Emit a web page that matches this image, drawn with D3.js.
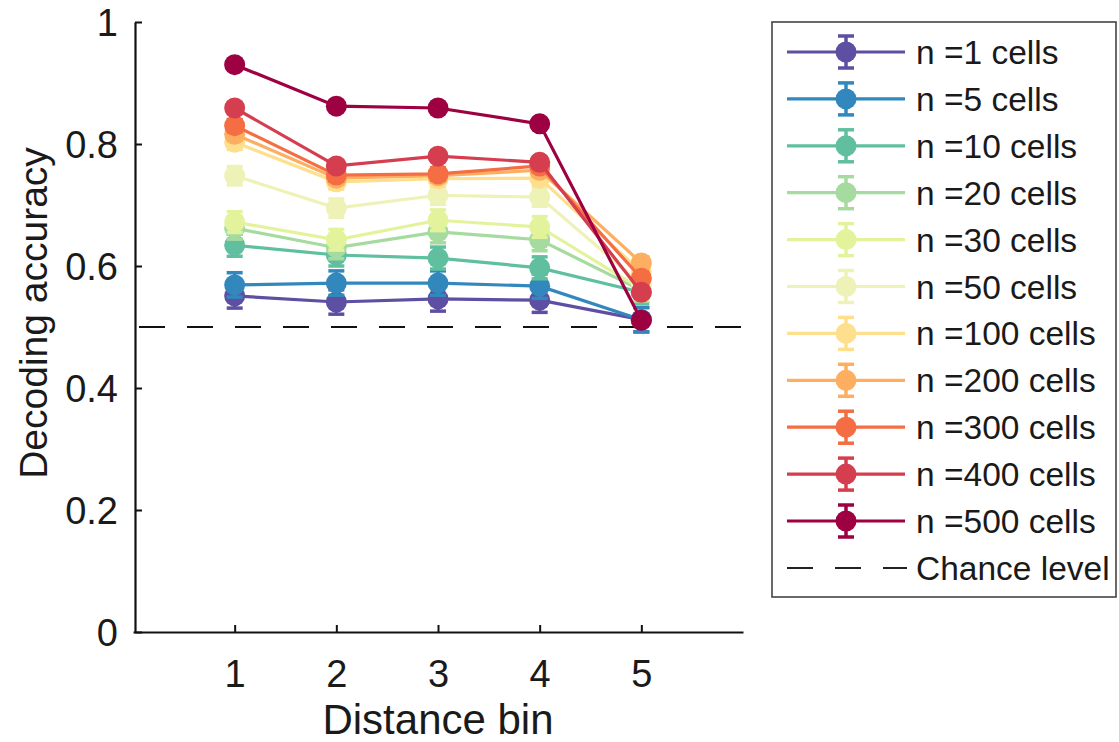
<!DOCTYPE html>
<html><head><meta charset="utf-8">
<script src="https://cdn.jsdelivr.net/npm/d3@7"></script>
<style>body{margin:0;background:#fff}svg{display:block}text{font-family:"Liberation Sans",Arial,sans-serif;fill:#1a1a1a}</style>
</head><body><svg id="c" width="1119" height="742"></svg>
<script>
const bins = [1, 2, 3, 4, 5];
const cellCounts = [1, 5, 10, 20, 30, 50, 100, 200, 300, 400, 500];
const acc_n1   = [0.551, 0.541, 0.546, 0.544, 0.512];
const acc_n5   = [0.569, 0.572, 0.572, 0.567, 0.512];
const acc_n10  = [0.634, 0.618, 0.613, 0.597, 0.557];
const acc_n20  = [0.662, 0.630, 0.656, 0.643, 0.560];
const acc_n30  = [0.672, 0.643, 0.675, 0.664, 0.562];
const acc_n50  = [0.748, 0.695, 0.716, 0.713, 0.570];
const acc_n100 = [0.803, 0.738, 0.743, 0.744, 0.590];
const acc_n200 = [0.816, 0.744, 0.748, 0.757, 0.605];
const acc_n300 = [0.830, 0.749, 0.751, 0.764, 0.580];
const acc_n400 = [0.859, 0.764, 0.780, 0.770, 0.557];
const acc_n500 = [0.930, 0.862, 0.859, 0.833, 0.511];
const err = [0.020, 0.020, 0.018, 0.018, 0.017, 0.015, 0.012, 0.010, 0.010, 0.008, 0.006];
const allAcc = [acc_n1, acc_n5, acc_n10, acc_n20, acc_n30, acc_n50, acc_n100, acc_n200, acc_n300, acc_n400, acc_n500];
const chance = 0.5;
const xTicks = [1, 2, 3, 4, 5];
const yTicks = [0, 0.2, 0.4, 0.6, 0.8, 1];
const colors = ["#5e4fa2", "#3288bd", "#5fbf9f", "#a6dba0", "#e3f39c", "#eef2b6", "#fedf8e", "#fdae61", "#f46d43", "#d53e4f", "#9e0142"];

const svg = d3.select("#c");
const L = 135, R = 743, T = 22, B = 632;
const x = d3.scaleLinear().domain([0, 6]).range([L - 2, R]);
const y = d3.scaleLinear().domain([0, 1]).range([B, T]);

// axes
const yAxis = svg.append("g").attr("transform", `translate(${L},0)`)
  .call(d3.axisLeft(y).tickValues(yTicks).tickFormat(d => d === 0 || d === 1 ? d3.format("d")(d) : d3.format(".1f")(d)).tickSizeInner(-7).tickSizeOuter(0).tickPadding(17));
const xAxis = svg.append("g").attr("transform", `translate(0,${B})`)
  .call(d3.axisBottom(x).tickValues(xTicks).tickFormat(d3.format("d")).tickSizeInner(-7).tickSizeOuter(0).tickPadding(28));
[yAxis, xAxis].forEach(g => {
  g.select(".domain").attr("stroke", "#111").attr("stroke-width", 2.2);
  g.selectAll(".tick line").attr("stroke", "#111").attr("stroke-width", 2);
  g.selectAll(".tick text").style("font-size", "38px").attr("fill", "#262626");
});
yAxis.selectAll(".tick text").attr("dy", "0.36em");
xAxis.selectAll(".tick text").attr("dy", "0.71em");

svg.append("text").attr("x", x(3.0)).attr("y", 734).attr("text-anchor", "middle").style("font-size", "42px").attr("fill", "#262626").text("Distance bin");
svg.append("text").attr("transform", `translate(47,${y(0.523)}) rotate(-90)`).attr("text-anchor", "middle").style("font-size", "39px").attr("fill", "#262626").text("Decoding accuracy");

// chance line
svg.append("line").attr("x1", L).attr("x2", R).attr("y1", y(chance)).attr("y2", y(chance))
  .attr("stroke", "#111").attr("stroke-width", 2).attr("stroke-dasharray", "26,22").attr("stroke-dashoffset", -4);

// series
const line = d3.line().x((d, i) => x(bins[i])).y(d => y(d));
allAcc.forEach((vals, k) => {
  const g = svg.append("g");
  const c = colors[k];
  g.append("path").datum(vals).attr("d", line).attr("fill", "none").attr("stroke", c).attr("stroke-width", 3.2);
  vals.forEach((v, i) => {
    const cx = x(bins[i]);
    const e = err[k];
    g.append("line").attr("x1", cx).attr("x2", cx).attr("y1", y(v - e)).attr("y2", y(v + e)).attr("stroke", c).attr("stroke-width", 3.5);
    [v - e, v + e].forEach(t => g.append("line").attr("x1", cx - 8).attr("x2", cx + 8).attr("y1", y(t)).attr("y2", y(t)).attr("stroke", c).attr("stroke-width", 3.5));
    g.append("circle").attr("cx", cx).attr("cy", y(v)).attr("r", 10.5).attr("fill", c);
  });
});

// legend
const lg = svg.append("g");
lg.append("rect").attr("x", 772).attr("y", 22).attr("width", 344).attr("height", 575).attr("fill", "#fff").attr("stroke", "#444").attr("stroke-width", 1.6);
const rowY = i => 52 + i * 46.9;
cellCounts.forEach((n, i) => {
  const c = colors[i], yy = rowY(i);
  lg.append("line").attr("x1", 787).attr("x2", 905).attr("y1", yy).attr("y2", yy).attr("stroke", c).attr("stroke-width", 3.2);
  lg.append("line").attr("x1", 846).attr("x2", 846).attr("y1", yy - 16).attr("y2", yy + 16).attr("stroke", c).attr("stroke-width", 3.5);
  [yy - 16, yy + 16].forEach(t => lg.append("line").attr("x1", 838).attr("x2", 854).attr("y1", t).attr("y2", t).attr("stroke", c).attr("stroke-width", 3.5));
  lg.append("circle").attr("cx", 846).attr("cy", yy).attr("r", 10.5).attr("fill", c);
  lg.append("text").attr("x", 916).attr("y", yy).attr("dy", "0.36em").style("font-size", "33.5px").text(`n =${n} cells`);
});
const cy = rowY(11);
lg.append("line").attr("x1", 787).attr("x2", 907).attr("y1", cy).attr("y2", cy).attr("stroke", "#222").attr("stroke-width", 2).attr("stroke-dasharray", "26,22");
lg.append("text").attr("x", 916).attr("y", cy).attr("dy", "0.36em").style("font-size", "33.5px").text("Chance level");
</script></body></html>
